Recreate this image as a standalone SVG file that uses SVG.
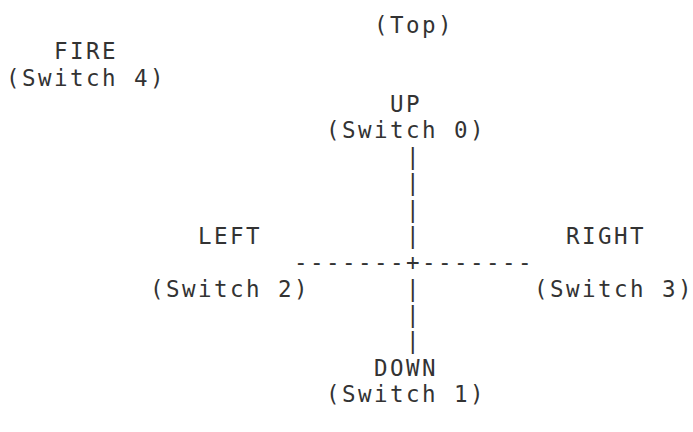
<svg xmlns="http://www.w3.org/2000/svg" width="693" height="432" viewBox="0 0 693 432">
<style>
text{font-family:"DejaVu Sans Mono","Liberation Mono",monospace;font-size:22.5px;letter-spacing:2.45px;fill:#333;white-space:pre}
</style>
<rect width="693" height="432" fill="#fff"/>
<g id="top"><text x="374" y="33">(Top)</text></g>
<g id="fire"><text x="54" y="59.4">FIRE</text><text x="6" y="85.7">(Switch 4)</text></g>
<g id="up"><text x="390" y="112.1">UP</text><text x="326" y="138.4">(Switch 0)</text></g>
<g id="left"><text x="198" y="243.9">LEFT</text><text x="150" y="296.6">(Switch 2)</text></g>
<g id="right"><text x="566" y="243.9">RIGHT</text><text x="534" y="296.6">(Switch 3)</text></g>
<g id="down"><text x="374" y="375.7">DOWN</text><text x="326" y="402">(Switch 1)</text></g>
<g id="connectors">
<text x="406" y="164.8">|</text>
<text x="406" y="191.2">|</text>
<text x="406" y="217.5">|</text>
<text x="406" y="243.9">|</text>
<text x="294" y="270.2">-------+-------</text>
<text x="406" y="296.6">|</text>
<text x="406" y="323">|</text>
<text x="406" y="349.3">|</text>
</g>
</svg>
